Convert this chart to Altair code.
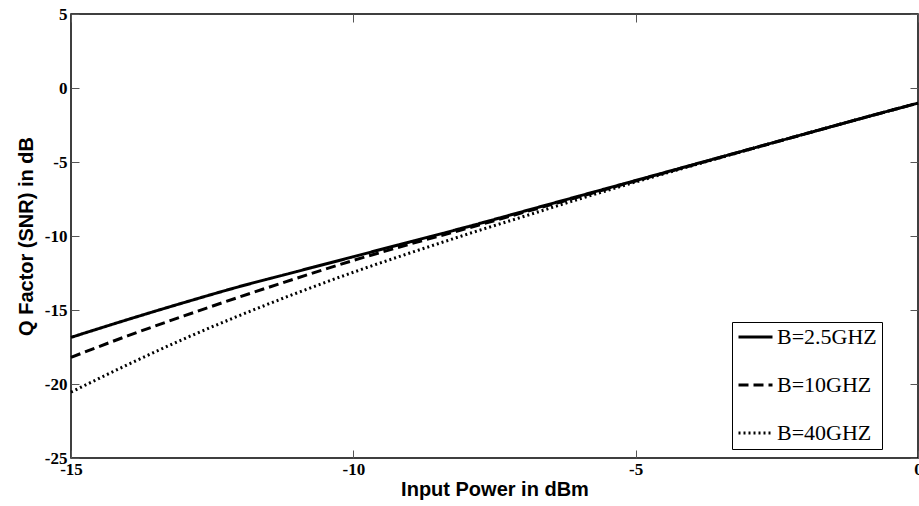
import altair as alt
import pandas as pd

# Input power (dBm)
power = [-15, -14, -13, -12, -11, -10, -9, -8, -7, -6, -5, -4, -3, -2, -1, 0]
# Q factor (dB) for each bandwidth
q_2_5 = [-16.85, -15.65, -14.5, -13.4, -12.4, -11.4, -10.4, -9.4, -8.35, -7.3, -6.25, -5.2, -4.15, -3.1, -2.05, -1.02]
q_10 = [-18.2, -16.75, -15.4, -14.1, -12.85, -11.65, -10.55, -9.5, -8.42, -7.35, -6.28, -5.22, -4.16, -3.1, -2.05, -1.02]
q_40 = [-20.55, -18.7, -16.95, -15.35, -13.85, -12.45, -11.15, -9.9, -8.7, -7.5, -6.35, -5.25, -4.17, -3.1, -2.05, -1.02]
series = ["B=2.5GHZ", "B=10GHZ", "B=40GHZ"]
x_ticks = [-15, -10, -5, 0]
y_ticks = [5, 0, -5, -10, -15, -20, -25]

rows = []
for name, vals in zip(series, [q_2_5, q_10, q_40]):
    for p, q in zip(power, vals):
        rows.append({"P": p, "Q": q, "B": name})
df = pd.DataFrame(rows)

xscale = alt.Scale(domain=[-15, 0], nice=False, zero=False)
yscale = alt.Scale(domain=[-25, 5], nice=False, zero=False)

tick_color = "#555555"
hyphen_label = "datum.value < 0 ? '-' + abs(datum.value) : '' + datum.value"

lines = alt.Chart(df).mark_line(color="black", strokeWidth=3, interpolate="monotone").encode(
    x=alt.X("P:Q", scale=xscale, axis=alt.Axis(
        title="Input Power in dBm", values=x_ticks, orient="bottom", offset=-8, tickSize=8,
        domain=False, grid=False, labelFlush=False, labelFont="Liberation Serif",
        labelFontWeight="bold", labelFontSize=17, labelColor="black", tickColor=tick_color,
        labelPadding=3, titleFont="Liberation Sans", titleFontSize=20, titleFontWeight="bold",
        titleColor="black", titlePadding=2, labelExpr=hyphen_label)),
    y=alt.Y("Q:Q", scale=yscale, axis=alt.Axis(
        title="Q Factor (SNR) in dB", values=y_ticks, orient="left", offset=-8, tickSize=8,
        domain=False, grid=False, labelFlush=False, labelFont="Liberation Serif",
        labelFontWeight="bold", labelFontSize=17, labelColor="black", tickColor=tick_color,
        labelPadding=4, titleFont="Liberation Sans", titleFontSize=20, titleFontWeight="bold",
        titleColor="black", titlePadding=8, labelExpr=hyphen_label)),
    strokeDash=alt.StrokeDash("B:N", scale=alt.Scale(domain=series, range=[[1, 0], [10, 5], [2, 3]]),
        legend=alt.Legend(
            title=None, orient="none", legendX=661, legendY=308, direction="vertical",
            symbolType="stroke", symbolSize=1156, symbolStrokeWidth=3, symbolStrokeColor="black",
            clipHeight=20, rowPadding=26, padding=5, strokeColor="black", fillColor="white",
            labelFont="Liberation Serif", labelFontSize=22, labelColor="black", labelOffset=3,
            labelLimit=300, labelExpr="datum.label + '\u00a0\u00a0\u00a0\u00a0'")),
)

mirror = alt.Chart(df).mark_line(opacity=0).encode(
    x=alt.X("P:Q", scale=xscale, axis=alt.Axis(
        orient="top", values=x_ticks, labels=False, title=None, offset=-8, tickSize=8,
        domain=False, grid=False, tickColor=tick_color)),
    y=alt.Y("Q:Q", scale=yscale, axis=alt.Axis(
        orient="right", values=y_ticks, labels=False, title=None, offset=-8, tickSize=8,
        domain=False, grid=False, tickColor=tick_color)),
)

chart = alt.layer(lines, mirror).resolve_axis(x="independent", y="independent").properties(
    width=847, height=444,
    autosize=alt.AutoSizeParams(type="none"),
    padding={"left": 71, "top": 14, "right": 1, "bottom": 48},
    background="white",
).configure_view(stroke="black", strokeWidth=1.5)

chart.save("out.html", embed_options={"renderer": "svg", "actions": False})
